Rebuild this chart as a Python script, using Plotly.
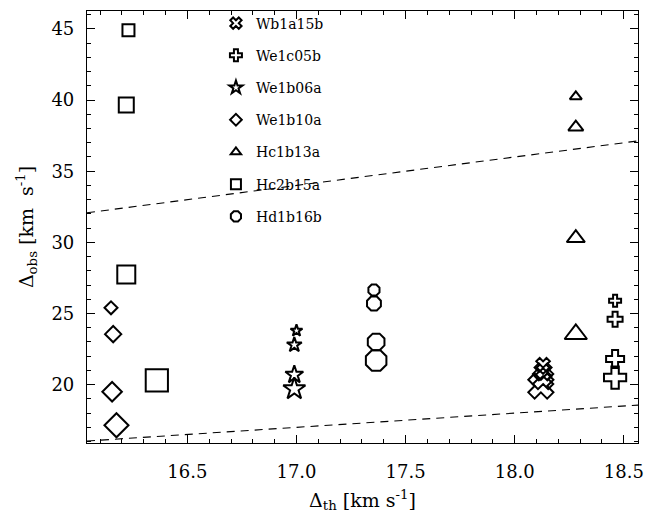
import plotly.graph_objects as go

# Thermal vs observed line widths for seven sources (km/s)
names = ["Wb1a15b", "We1c05b", "We1b06a", "We1b10a", "Hc1b13a", "Hc2b15a", "Hd1b16b"]

wb1a15b_th = [18.13, 18.13, 18.13, 18.12]
wb1a15b_obs = [21.4, 20.9, 20.4, 19.9]

we1c05b_th = [18.46, 18.46, 18.46, 18.46]
we1c05b_obs = [25.9, 24.6, 21.8, 20.5]

we1b06a_th = [17.00, 16.99, 16.99, 16.99]
we1b06a_obs = [23.8, 22.8, 20.7, 19.7]

we1b10a_th = [16.15, 16.16, 16.155, 16.175]
we1b10a_obs = [25.4, 23.55, 19.5, 17.15]

hc1b13a_th = [18.28, 18.28, 18.28, 18.28]
hc1b13a_obs = [40.25, 38.1, 30.3, 23.55]

hc2b15a_th = [16.23, 16.22, 16.22, 16.36]
hc2b15a_obs = [44.9, 39.65, 27.75, 20.3]

hd1b16b_th = [17.355, 17.355, 17.365, 17.365]
hd1b16b_obs = [26.65, 25.7, 23.0, 21.7]

series_th = [wb1a15b_th, we1c05b_th, we1b06a_th, we1b10a_th, hc1b13a_th, hc2b15a_th, hd1b16b_th]
series_obs = [wb1a15b_obs, we1c05b_obs, we1b06a_obs, we1b10a_obs, hc1b13a_obs, hc2b15a_obs, hd1b16b_obs]

# Reference relations: obs = k * th
ref_slopes = [1, 2]

# Style
symbols = ["x-open", "cross-open", "star-open", "diamond-open",
           "triangle-up-open", "square-open", "octagon-open"]
base_size = [12, 10, 9, 10, 10.5, 12, 12]
size_steps = [1.0, 1.25, 1.5, 1.85]
legend_size = [10, 10, 10, 9, 9, 10, 11]
X_RANGE = [16.04, 18.565]
Y_RANGE = [15.9, 46.26]
FONT = "DejaVu Serif"

fig = go.Figure()

for k in ref_slopes:
    fig.add_trace(go.Scatter(
        x=X_RANGE, y=[k * v for v in X_RANGE], mode="lines",
        line=dict(color="black", width=1.1, dash="8px,6px"),
        showlegend=False, hoverinfo="skip",
    ))

for i, name in enumerate(names):
    sizes = [base_size[i] * s for s in size_steps]
    fig.add_trace(go.Scatter(
        x=series_th[i], y=series_obs[i], mode="markers",
        marker=dict(symbol=symbols[i], size=sizes, color="black", opacity=1,
                    line=dict(color="black", width=2)),
        showlegend=False, name=name,
    ))
    # legend entry
    fig.add_trace(go.Scatter(
        x=[None], y=[None], mode="markers", name=name, legendgroup=name,
        marker=dict(symbol=symbols[i], size=legend_size[i], color="black", opacity=1,
                    line=dict(color="black", width=2)),
    ))

axis_common = dict(
    showline=True, linecolor="black", linewidth=1.2, mirror="ticks",
    ticks="inside", ticklen=8, tickwidth=1.2, tickcolor="black",
    showgrid=False, zeroline=False,
    tickfont=dict(family=FONT, size=18, color="black"),
)

fig.update_layout(
    width=652, height=519,
    margin=dict(l=87, r=10, t=8, b=76),
    paper_bgcolor="white", plot_bgcolor="white",
    xaxis=dict(
        range=X_RANGE, dtick=0.5, tick0=16.5, tickformat=".1f",
        minor=dict(ticks="inside", ticklen=4, dtick=0.1, tickcolor="black", tickwidth=1),
        ticklabelstandoff=12,
        title=dict(text="Δ<sub>th</sub> [km s<sup>-1</sup>]",
                   font=dict(family=FONT, size=19, color="black"), standoff=12),
        **axis_common,
    ),
    yaxis=dict(
        range=Y_RANGE, dtick=5, tick0=20,
        minor=dict(ticks="inside", ticklen=4, dtick=1, tickcolor="black", tickwidth=1),
        ticklabelstandoff=8,
        title=dict(text="Δ<sub>obs</sub> [km  s<sup>-1</sup>]",
                   font=dict(family=FONT, size=19, color="black"), standoff=12),
        **axis_common,
    ),
    legend=dict(
        x=0.234, y=1.008, xanchor="left", yanchor="top",
        bgcolor="rgba(0,0,0,0)", borderwidth=0,
        font=dict(family=FONT, size=14, color="black"),
        tracegroupgap=11, itemwidth=30,
    ),
)

fig.write_html("out.html")
